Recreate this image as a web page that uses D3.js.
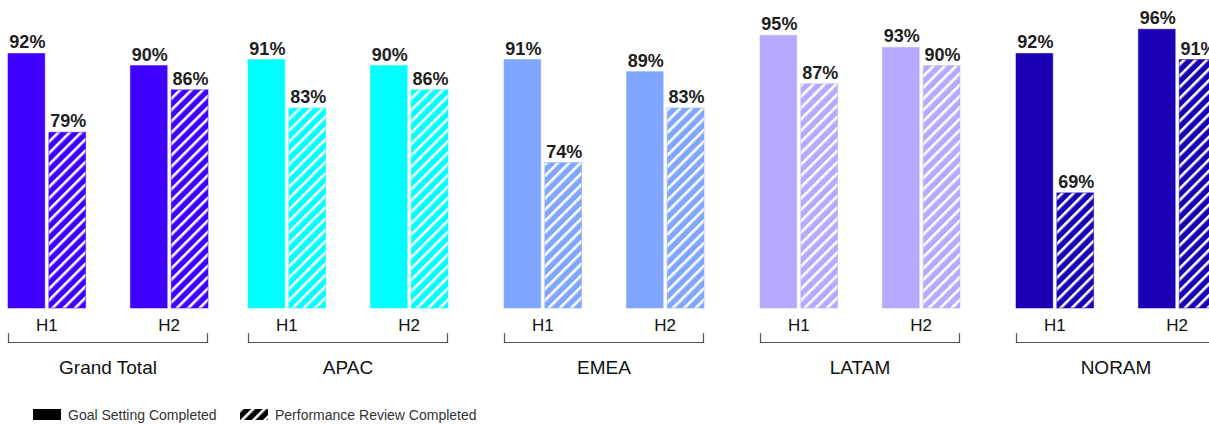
<!DOCTYPE html>
<html>
<head>
<meta charset="utf-8">
<script src="https://cdn.jsdelivr.net/npm/d3@7"></script>
<style>
  html, body { margin: 0; padding: 0; background: #fff; overflow: hidden; }
  svg { display: block; font-family: "Liberation Sans", Arial, sans-serif; }
</style>
</head>
<body>
<svg id="chart" width="1209" height="425"></svg>
<script>
const regions = ["Grand Total", "APAC", "EMEA", "LATAM", "NORAM"];
const halves = ["H1", "H2"];
const seriesNames = ["Goal Setting Completed", "Performance Review Completed"];
// [H1, H2] for each region
const goalSetting = {
  "Grand Total": [92, 90],
  "APAC": [91, 90],
  "EMEA": [91, 89],
  "LATAM": [95, 93],
  "NORAM": [92, 96]
};
const perfReview = {
  "Grand Total": [79, 86],
  "APAC": [83, 86],
  "EMEA": [74, 83],
  "LATAM": [87, 90],
  "NORAM": [69, 91]
};
const regionColors = ["#3f00ff", "#00ffff", "#80a6ff", "#b9a8ff", "#1a00b5"];

const svg = d3.select("#chart");

const y = d3.scaleLinear().domain([50, 100]).range([308, 5]);

// first facet sits at the left margin, the regional facets follow on a 256px step
const regionBand = d3.scaleBand()
  .domain(regions.slice(1))
  .range([248, 1216])
  .paddingInner(56 / 256)
  .paddingOuter(0);
const facetX = (r) => r === regions[0] ? 8 : regionBand(r);
const facetW = regionBand.bandwidth();

const x1 = d3.scaleBand().domain(halves).range([0, facetW]).paddingInner(0.366);
const x2 = d3.scaleBand().domain(seriesNames).range([0, x1.bandwidth()]).paddingInner(0.1);

const color = d3.scaleOrdinal().domain(regions).range(regionColors);

const defs = svg.append("defs");
function hatch(id, c) {
  const p = defs.append("pattern")
    .attr("id", id)
    .attr("patternUnits", "userSpaceOnUse")
    .attr("width", 8)
    .attr("height", 8)
    .attr("patternTransform", "rotate(45)");
  p.append("rect").attr("width", 8).attr("height", 8).attr("fill", c);
  p.append("rect").attr("x", 0).attr("width", 2.6).attr("height", 8).attr("fill", "#fff");
}
regions.forEach((r, i) => hatch("hatch" + i, regionColors[i]));
hatch("hatchLegend", "#000");

const rows = [];
regions.forEach((r) => {
  halves.forEach((h, hi) => {
    rows.push({ region: r, half: h, series: seriesNames[0], value: goalSetting[r][hi] });
    rows.push({ region: r, half: h, series: seriesNames[1], value: perfReview[r][hi] });
  });
});

const facets = svg.selectAll("g.facet")
  .data(regions)
  .join("g")
  .attr("class", "facet")
  .attr("transform", (r) => `translate(${facetX(r)},0)`);

facets.selectAll("rect.bar")
  .data((r) => rows.filter((d) => d.region === r))
  .join("rect")
  .attr("class", "bar")
  .attr("x", (d) => x1(d.half) + x2(d.series))
  .attr("y", (d) => y(d.value))
  .attr("width", x2.bandwidth())
  .attr("height", (d) => y(50) - y(d.value))
  .attr("fill", (d) => d.series === seriesNames[0]
    ? color(d.region)
    : `url(#hatch${regions.indexOf(d.region)})`)
  .attr("stroke", (d) => color(d.region))
  .attr("stroke-opacity", 0.55)
  .attr("stroke-width", 1);

facets.selectAll("text.value")
  .data((r) => rows.filter((d) => d.region === r))
  .join("text")
  .attr("class", "value")
  .attr("x", (d) => x1(d.half) + x2(d.series) + x2.bandwidth() / 2 + 1)
  .attr("y", (d) => y(d.value) - 5)
  .attr("text-anchor", "middle")
  .attr("font-size", 18)
  .attr("font-weight", "bold")
  .attr("fill", "#1e1e1e")
  .text((d) => d.value + "%");

facets.selectAll("text.half")
  .data(halves)
  .join("text")
  .attr("class", "half")
  .attr("x", (h) => x1(h) + x1.bandwidth() / 2)
  .attr("y", 331)
  .attr("text-anchor", "middle")
  .attr("font-size", 17)
  .attr("fill", "#111")
  .text((h) => h);

facets.append("path")
  .attr("d", `M0.5,333V342.5H${facetW - 0.5}V333`)
  .attr("fill", "none")
  .attr("stroke", "#555")
  .attr("stroke-width", 1.2);

facets.append("text")
  .attr("x", facetW / 2)
  .attr("y", 374)
  .attr("text-anchor", "middle")
  .attr("font-size", 19)
  .attr("fill", "#111")
  .text((r) => r);

// legend
const legend = svg.append("g").attr("transform", "translate(33,409)");
const legendX = d3.scaleOrdinal().domain(seriesNames).range([0, 207]);
const items = legend.selectAll("g")
  .data(seriesNames)
  .join("g")
  .attr("transform", (s) => `translate(${legendX(s)},0)`);
items.append("rect")
  .attr("width", 28)
  .attr("height", 11)
  .attr("fill", (s, i) => i === 0 ? "#000" : "url(#hatchLegend)");
items.append("text")
  .attr("x", 35)
  .attr("y", 10.5)
  .attr("font-size", 14)
  .attr("fill", "#333")
  .text((s) => s);
</script>
</body>
</html>
